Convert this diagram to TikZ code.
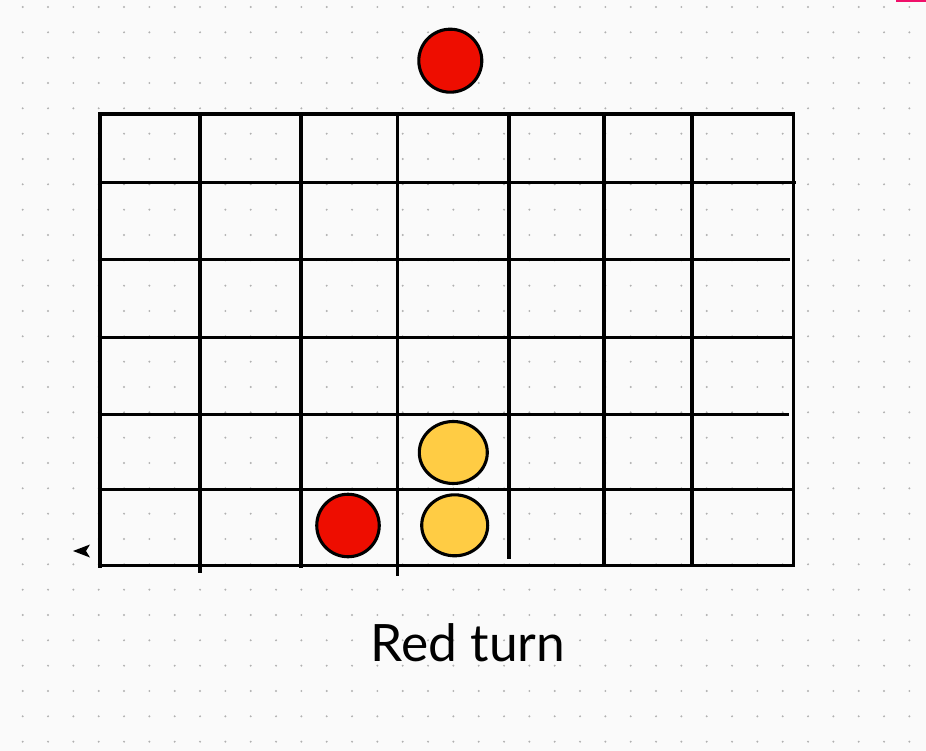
\documentclass[tikz,border=0pt]{standalone}
\usepackage{fontspec}
\setmainfont{Lato}
\usepackage{tikz}
\usetikzlibrary{arrows.meta, positioning, calc, shapes.geometric}

\definecolor{fondo}{HTML}{FAFAFA}
\definecolor{punto}{HTML}{B0B0B0}
\definecolor{fichaRoja}{HTML}{EE0D00}
\definecolor{fichaAmarilla}{HTML}{FFCC44}
\definecolor{marca}{HTML}{F0106A}

\tikzset{
    linea/.style={line width=3.3pt},
    ficha/.style={draw, line width=3.1pt, inner sep=0pt},
}

\begin{document}
\begin{tikzpicture}[x=1pt, y=-1pt]
    \fill[fondo] (0,0) rectangle (926,751);
    \useasboundingbox (0,0) rectangle (926,751);
    \fill[marca] (896,0) rectangle (926,2);

    % Rejilla de puntos
    \foreach \i in {0,...,35} {
        \foreach \j in {0,...,29} {
            \fill[punto] ({22.7+25.333*\i},{7+25.333*\j}) circle (1.1pt);
        }
    }

    % Lineas horizontales: y / extremo derecho
    \foreach \y/\xr in {114/795, 182.7/796, 259.3/790, 337.3/794, 414.3/789, 489.3/794, 565.7/795}
        \draw[linea] (98.4,\y) -- (\xr,\y);
    % Lineas verticales: x / extremo inferior
    \foreach \x/\yb in {100/568, 200/572.7, 301/568, 397.7/575.7, 509/559, 604/567, 692/567, 793.5/567.3}
        \draw[linea] (\x,112.4) -- (\x,\yb);

    % Fichas
    \node[ficha, circle, fill=fichaRoja, minimum size=63pt] (rojaArriba) at (450.3,60.7) {};
    \node[ficha, circle, fill=fichaRoja, minimum size=62.5pt] (rojaAbajo) at (348,525.5) {};
    \node[ficha, ellipse, fill=fichaAmarilla, minimum width=68pt, minimum height=62pt] (amarillaArriba) at (453.3,452.5) {};
    \node[ficha, ellipse, fill=fichaAmarilla, minimum width=66pt, minimum height=61pt] (amarillaAbajo) at (454.7,525.3) {};

    % Punta de flecha suelta
    \coordinate (punta) at (73,551);
    \fill (punta) -- ++(17,-6.5) -- ++(-4,6.5) -- ++(4,6.5) -- cycle;

    \node[anchor=base, font=\fontsize{51.5}{60}\selectfont, inner sep=0pt] (turno) at (468,661.7) {Red turn};
\end{tikzpicture}
\end{document}
